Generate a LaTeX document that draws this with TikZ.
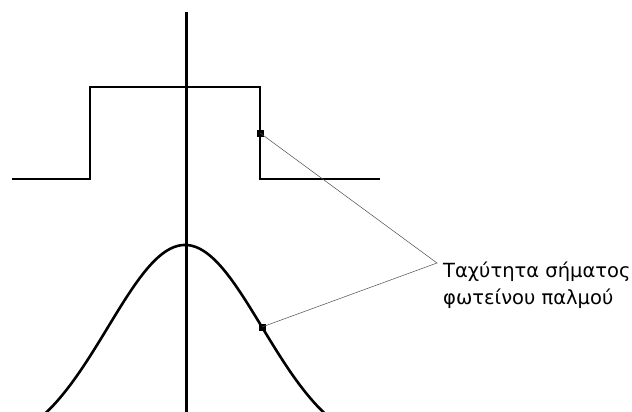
\documentclass[tikz,border=0pt]{standalone}
\usepackage{fontspec}
\setmainfont{DejaVu Sans}
\usetikzlibrary{positioning}

\begin{document}
\begin{tikzpicture}[x=1pt,y=-1pt,
 curve/.style={line width=2.6pt},
 lead/.style={line width=0.5pt,black!70},
 dot/.style={fill=black,inner sep=0pt,minimum size=7pt}]
\useasboundingbox (0,0) rectangle (632,412);
\draw[line width=3pt] (186,12)--(186,412);
% square pulse
\draw[curve](12,179)--(90,179)--(90,87)--(260,87)--(260,179)--(380,179);
% gaussian pulse
\draw[curve,domain=30:340,samples=120,smooth] plot (\x,{453.7-208.7*exp(-((\x-185)/77)^2/2)});
\node[dot] (p1) at (260,133) {};
\node[dot] (p2) at (262,327) {};
\coordinate (tip) at (437,263);
\node[right=4pt of tip,align=left,font=\fontsize{19.5}{27}\selectfont,anchor=north west,yshift=3pt,inner sep=2pt] (lbl)
 {Ταχύτητα σήματος\\φωτείνου παλμού};
\draw[lead](p1.center)--(tip)--(p2.center);
\end{tikzpicture}
\end{document}
